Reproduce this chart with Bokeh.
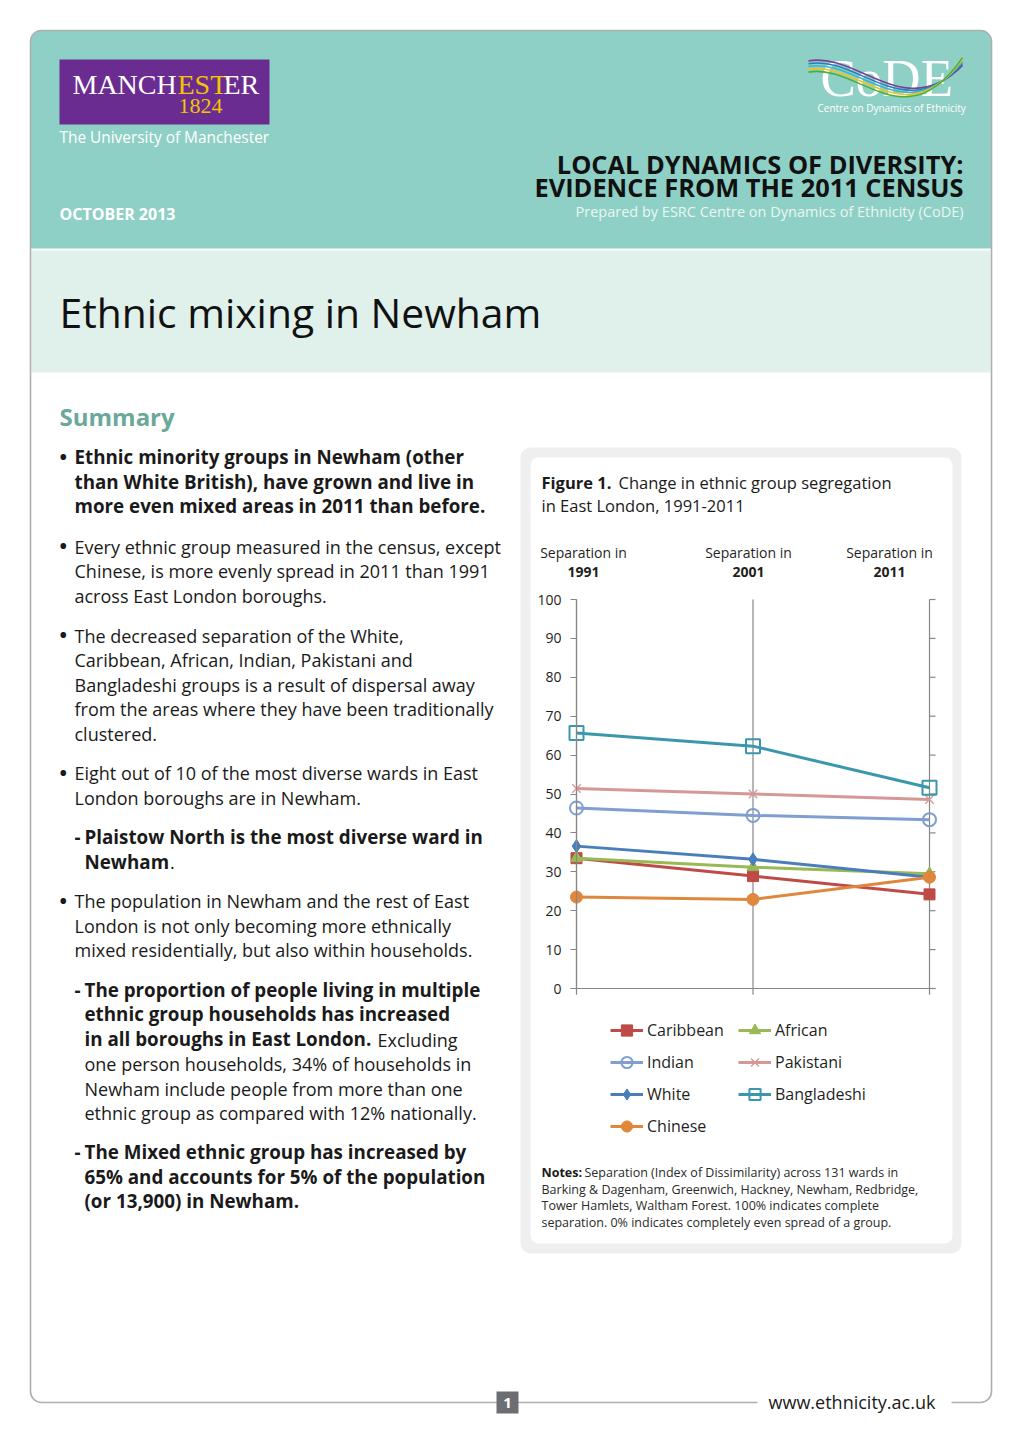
from bokeh.plotting import figure
from bokeh.models import Range1d, LinearAxis, FixedTicker, Legend, LegendItem
from bokeh.core.properties import value
from bokeh.embed import file_html
from bokeh.resources import INLINE

# ---------------- chart data ----------------
years = [1991, 2001, 2011]
caribbean = [33.5, 28.9, 24.2]
african = [33.5, 31.2, 29.5]
indian = [46.4, 44.5, 43.4]
pakistani = [51.4, 50.0, 48.6]
white = [36.6, 33.2, 28.6]
bangladeshi = [65.7, 62.3, 51.6]
chinese = [23.5, 22.9, 28.6]
y_ticks = [0, 10, 20, 30, 40, 50, 60, 70, 80, 90, 100]
column_header = "Separation in"
group_names = ["Caribbean", "African", "Indian", "Pakistani", "White", "Bangladeshi", "Chinese"]

FONT = "Open Sans"
SERIF = "Liberation Serif"
INK = "#1a1a1a"
GRID = "#878787"

W, H = 1004, 1426
p = figure(width=W, height=H, x_range=Range1d(0, W), y_range=Range1d(H, 0),
           x_axis_type=None, y_axis_type=None, toolbar_location=None, output_backend="svg",
           min_border=0, outline_line_color=None,
           background_fill_color="white", border_fill_color="white")

# chart scales (page px calibration of the plot area)
PX_PER_YEAR = (929 - 576) / 20.0
PX_PER_UNIT = (988 - 599) / 100.0
p.extra_x_ranges = {"yr": Range1d(1991 - 576 / PX_PER_YEAR, 1991 + (W - 576) / PX_PER_YEAR)}
p.extra_y_ranges = {"sep": Range1d(-(H - 988) / PX_PER_UNIT, 988 / PX_PER_UNIT)}


def txt(xs, ys, texts, size, color=INK, bold=False, align="left", font=FONT):
    """ys are alphabetic baselines; drawn with a middle baseline for robustness"""
    s = float(size.replace("px", ""))
    k = 0.36 if font == SERIF else 0.38
    p.text(x=xs, y=[y - k * s for y in ys], text=texts, text_font=value(font),
           text_font_size=value(size), text_font_style="bold" if bold else "normal",
           text_align=align, text_baseline="middle", text_color=color)


# ---------------- page background ----------------
p.quad(left=30, right=991, top=30, bottom=248, fill_color="#8FD0C6", line_color=None,
       border_radius=(11, 11, 0, 0))
p.quad(left=31, right=990, top=250, bottom=372, fill_color="#E0F1EC", line_color=None)
p.quad(left=30, right=991, top=30, bottom=1402, fill_color=None, line_color="#AFAFAF",
       line_width=1.6, border_radius=11)

# Manchester logo
p.quad(left=59, right=269, top=59, bottom=124, fill_color="#6B2C91", line_color=None)
txt([72], [94.5], ["MANCH"], "28px", color="white", font=SERIF)
txt([177], [94.5], ["EST"], "28px", color="#F4C400", font=SERIF)
txt([223], [94.5], ["ER"], "28px", color="white", font=SERIF)
txt([178], [113.5], ["1824"], "22px", color="#F4C400", font=SERIF)
txt([59], [143], ["The University of Manchester"], "15.4px", color="white")
txt([59], [219.5], ["OCTOBER 2013"], "16px", color="white", bold=True)

# CoDE logo
txt([820], [97], ["CoDE"], "53px", color="white", font=SERIF)
swoosh_colors = ["#7B3F98", "#2B7BBF", "#3CB4CF", "#F2C316", "#4FAE3A"]
for i, c in enumerate(swoosh_colors):
    d = (i - 2) * 2.8
    p.bezier(x0=[808], y0=[66 + d], x1=[962], y1=[61 - d * 0.7],
             cx0=[858], cy0=[57 + d], cx1=[905], cy1=[132 + d * 1.6],
             line_color=c, line_width=1.6)
txt([817], [111], ["Centre on Dynamics of Ethnicity"], "10px", color="white")

txt([963, 963], [173, 196.5], ["LOCAL DYNAMICS OF DIVERSITY:", "EVIDENCE FROM THE 2011 CENSUS"],
    "25.4px", color="#111111", bold=True, align="right")
txt([963], [217], ["Prepared by ESRC Centre on Dynamics of Ethnicity (CoDE)"], "14.5px",
    color="#EAF6F3", align="right")

# title band
txt([59], [327], ["Ethnic mixing in Newham"], "40.8px", color="#111111")

# ---------------- summary column ----------------
txt([59], [425], ["Summary"], "24px", color="#6AA899", bold=True)

bullet_y = [464, 553, 642, 780, 908]
txt([59] * len(bullet_y), bullet_y, ["\u2022"] * len(bullet_y), "20px", bold=True)
dash_y = [844, 997, 1159]
txt([74] * len(dash_y), dash_y, ["-"] * len(dash_y), "18.8px", bold=True)

bold_lines = [
    (74, 464, "Ethnic minority groups in Newham (other"),
    (74, 488.5, "than White British), have grown and live in"),
    (74, 513, "more even mixed areas in 2011 than before."),
    (84, 844, "Plaistow North is the most diverse ward in"),
    (84, 868.5, "Newham"),
    (84, 997, "The proportion of people living in multiple"),
    (84, 1021, "ethnic group households has increased"),
    (84, 1046, "in all boroughs in East London."),
    (84, 1159, "The Mixed ethnic group has increased by"),
    (84, 1183.5, "65% and accounts for 5% of the population"),
    (84, 1208, "(or 13,900) in Newham."),
]
reg_lines = [
    (74, 553, "Every ethnic group measured in the census, except"),
    (74, 577.5, "Chinese, is more evenly spread in 2011 than 1991"),
    (74, 602, "across East London boroughs."),
    (74, 642, "The decreased separation of the White,"),
    (74, 666.5, "Caribbean, African, Indian, Pakistani and"),
    (74, 691, "Bangladeshi groups is a result of dispersal away"),
    (74, 715.5, "from the areas where they have been traditionally"),
    (74, 740, "clustered."),
    (74, 779.5, "Eight out of 10 of the most diverse wards in East"),
    (74, 804, "London boroughs are in Newham."),
    (169.5, 868.5, "."),
    (74, 907.5, "The population in Newham and the rest of East"),
    (74, 932, "London is not only becoming more ethnically"),
    (74, 956.5, "mixed residentially, but also within households."),
    (377, 1046, "Excluding"),
    (84, 1070.5, "one person households, 34% of households in"),
    (84, 1095, "Newham include people from more than one"),
    (84, 1119.5, "ethnic group as compared with 12% nationally."),
]
txt([l[0] for l in bold_lines], [l[1] for l in bold_lines], [l[2] for l in bold_lines],
    "18.8px", bold=True)
txt([l[0] for l in reg_lines], [l[1] for l in reg_lines], [l[2] for l in reg_lines], "18px")

# ---------------- chart panel ----------------
p.quad(left=520, right=961, top=447, bottom=1253, fill_color="#EFEFEF", line_color=None,
       border_radius=10)
p.quad(left=530, right=952, top=457, bottom=1243, fill_color="white", line_color=None,
       border_radius=8)

txt([541], [488], ["Figure 1."], "16.5px", bold=True)
txt([618, 541], [488, 511], ["Change in ethnic group segregation", "in East London, 1991-2011"],
    "16.5px")

header_x = [583, 748, 889]
txt(header_x, [557] * 3, [column_header] * 3, "14px", color="#1f1f1f", align="center")
txt(header_x, [577] * 3, [str(y) for y in years], "14px", color="#1f1f1f", bold=True,
    align="center")

# axes and grid
yaxis = LinearAxis(y_range_name="sep", fixed_location=576, ticker=FixedTicker(ticks=y_ticks),
                   bounds=(0, 100), axis_line_color=GRID, axis_line_width=1.2,
                   major_tick_line_color=GRID, major_tick_line_width=1.2,
                   major_tick_out=6, major_tick_in=0, minor_tick_out=0, minor_tick_in=0,
                   major_label_standoff=9, major_label_text_font=FONT,
                   major_label_text_font_size="14px", major_label_text_color="#1f1f1f")
p.add_layout(yaxis, "left")

p.segment(x0=years, x1=years, y0=[-1.6] * 3, y1=[100] * 3, x_range_name="yr",
          y_range_name="sep", line_color=GRID, line_width=1.2)
p.segment(x0=[570], x1=[935], y0=[0], y1=[0], y_range_name="sep", line_color=GRID,
          line_width=1.2)
p.segment(x0=[929] * len(y_ticks), x1=[935] * len(y_ticks), y0=y_ticks, y1=y_ticks,
          y_range_name="sep", line_color=GRID, line_width=1.2)

# series
series = [
    (caribbean, "#BE4B48", "square", 11, True, 1),
    (african, "#98B954", "triangle", 12, True, 1),
    (indian, "#809ECF", "circle", 13, False, 2),
    (pakistani, "#D69896", "x", 12, False, 1.3),
    (white, "#4A7EBB", "diamond", 13, True, 1),
    (bangladeshi, "#3B97AD", "square", 14, False, 2),
    (chinese, "#E0873E", "circle", 12, True, 1),
]
items = []
for name, (vals, col, mk, sz, filled, mlw) in zip(group_names, series):
    lr = p.line(years, vals, x_range_name="yr", y_range_name="sep", line_color=col,
                line_width=3)
    sr = p.scatter(years, vals, x_range_name="yr", y_range_name="sep", marker=mk, size=sz,
                   fill_color=col if filled else None, line_color=col, line_width=mlw)
    items.append(LegendItem(label=name, renderers=[lr, sr]))

legend = Legend(items=items, orientation="horizontal", ncols=2, location=(610, 286),
                glyph_width=33, glyph_height=28, label_height=28, label_width=87,
                label_standoff=4, spacing=4, padding=0, margin=0,
                border_line_color=None, background_fill_alpha=0,
                label_text_font=FONT, label_text_font_size="16px", label_text_color="#1f1f1f")
p.add_layout(legend)

# notes
txt([541], [1177], ["Notes:"], "12.5px", bold=True)
txt([584, 541, 541, 541], [1177, 1193.5, 1210, 1226.5],
    ["Separation (Index of Dissimilarity) across 131 wards in",
     "Barking & Dagenham, Greenwich, Hackney, Newham, Redbridge,",
     "Tower Hamlets, Waltham Forest. 100% indicates complete",
     "separation. 0% indicates completely even spread of a group."], "12.5px", color="#2a2a2a")

# ---------------- footer ----------------
p.quad(left=757, right=951, top=1392, bottom=1412, fill_color="white", line_color=None)
txt([768], [1408.5], ["www.ethnicity.ac.uk"], "18px")
p.quad(left=496, right=518, top=1391, bottom=1413, fill_color="#6D6E71", line_color=None)
txt([507], [1408], ["1"], "15px", color="white", bold=True, align="center")

open("out.html", "w").write(file_html(p, INLINE))
